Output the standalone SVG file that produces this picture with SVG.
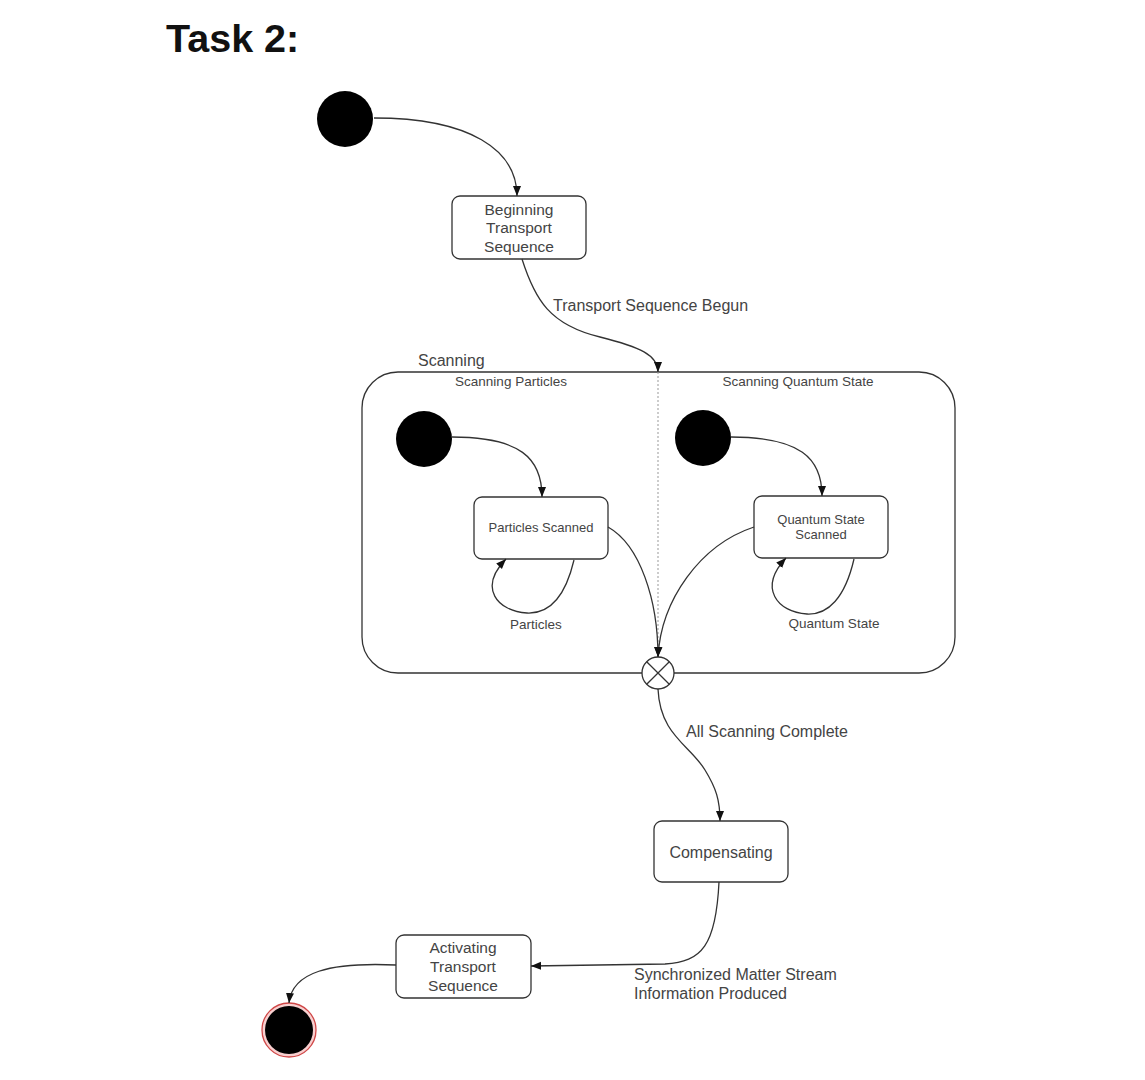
<svg xmlns="http://www.w3.org/2000/svg" width="1145" height="1080" viewBox="0 0 1145 1080">
<style>
.st{fill:#fff;stroke:#333;stroke-width:1.3}
.ini{fill:#000}
.t{font-family:"Liberation Sans",Arial,sans-serif;fill:#444;text-anchor:middle}
.l{font-family:"Liberation Sans",Arial,sans-serif;fill:#444}
.c{fill:none;stroke:#333;stroke-width:1.3}
</style>
<defs>
<marker id="ah" markerUnits="userSpaceOnUse" markerWidth="10" markerHeight="10" viewBox="0 0 10 10" refX="10" refY="5" orient="auto">
<path d="M0,1 L10,5 L0,9 z" fill="#111"/>
</marker>
</defs>
<rect width="1145" height="1080" fill="#fff"/>
<text x="166" y="52" font-family="Liberation Sans,Arial,sans-serif" font-weight="bold" font-size="39.5" fill="#111">Task 2:</text>

<g id="scanning">
<rect x="362" y="372" width="593" height="301" rx="36" class="st"/>
<line x1="658" y1="372" x2="658" y2="657" stroke="#999" stroke-width="1" stroke-dasharray="2,2"/>
<text x="418" y="366" class="l" font-size="16">Scanning</text>
<text x="511" y="386" class="t" font-size="13.5">Scanning Particles</text>
<text x="798" y="386" class="t" font-size="13.5">Scanning Quantum State</text>
</g>

<g id="init1"><circle cx="345" cy="119" r="28" class="ini"/></g>
<g id="beginning">
<rect x="452" y="196" width="134" height="63" rx="8" class="st"/>
<text class="t" font-size="15.5"><tspan x="519" y="215">Beginning</tspan><tspan x="519" y="233">Transport</tspan><tspan x="519" y="252">Sequence</tspan></text>
</g>
<g id="init2"><circle cx="424" cy="439" r="28" class="ini"/></g>
<g id="particles">
<rect x="474" y="497" width="134" height="62" rx="8" class="st"/>
<text x="541" y="532" class="t" font-size="13">Particles Scanned</text>
</g>
<g id="init3"><circle cx="703" cy="438" r="28" class="ini"/></g>
<g id="quantum">
<rect x="754" y="496" width="134" height="62" rx="8" class="st"/>
<text class="t" font-size="13"><tspan x="821" y="524">Quantum State</tspan><tspan x="821" y="539">Scanned</tspan></text>
</g>
<g id="join">
<circle cx="658" cy="673" r="16" class="st"/>
<path d="M646.7,661.7 L669.3,684.3 M669.3,661.7 L646.7,684.3" class="c"/>
</g>
<g id="compensating">
<rect x="654" y="821" width="134" height="61" rx="8" class="st"/>
<text x="721" y="858" class="t" font-size="16">Compensating</text>
</g>
<g id="activating">
<rect x="396" y="935" width="135" height="63" rx="8" class="st"/>
<text class="t" font-size="15.5"><tspan x="463" y="953">Activating</tspan><tspan x="463" y="972">Transport</tspan><tspan x="463" y="991">Sequence</tspan></text>
</g>
<g id="final">
<circle cx="289" cy="1030" r="27" fill="#f8d0d0" stroke="#d04848" stroke-width="1.3"/>
<circle cx="289" cy="1030" r="24" fill="#000"/>
</g>

<g id="connectors">
<path d="M374,118 C470,118 517,150 517,196" class="c" marker-end="url(#ah)"/>
<path d="M522,259 C535,300 550,325 600,337 C640,347 658,355 658,372" class="c" marker-end="url(#ah)"/>
<path d="M452,437 C520,437 542,458 542,497" class="c" marker-end="url(#ah)"/>
<path d="M731,437 C800,437 822,458 822,496" class="c" marker-end="url(#ah)"/>
<path d="M574,560 C565,598 548,614 527,613 C497,611 478,588 506,559" class="c" marker-end="url(#ah)"/>
<path d="M854,559 C845,598 828,615 807,614 C777,612 758,588 786,558" class="c" marker-end="url(#ah)"/>
<path d="M608,527 C640,545 658,600 658,657" class="c" marker-end="url(#ah)"/>
<path d="M754,527 C700,545 661,600 658,657" class="c" marker-end="url(#ah)"/>
<path d="M658,689 C660,735 690,745 705,770 C716,788 720,800 720,821" class="c" marker-end="url(#ah)"/>
<path d="M719,882 C716,945 702,962 665,964 L531,966" class="c" marker-end="url(#ah)"/>
<path d="M396,965 C330,962 292,972 289,1003" class="c" marker-end="url(#ah)"/>
<text x="553" y="311" class="l" font-size="16">Transport Sequence Begun</text>
<text x="536" y="629" class="t" font-size="13.5">Particles</text>
<text x="834" y="628" class="t" font-size="13.5">Quantum State</text>
<text x="686" y="737" class="l" font-size="16">All Scanning Complete</text>
<text class="l" font-size="16"><tspan x="634" y="980">Synchronized Matter Stream</tspan><tspan x="634" y="999">Information Produced</tspan></text>
</g>
</svg>
